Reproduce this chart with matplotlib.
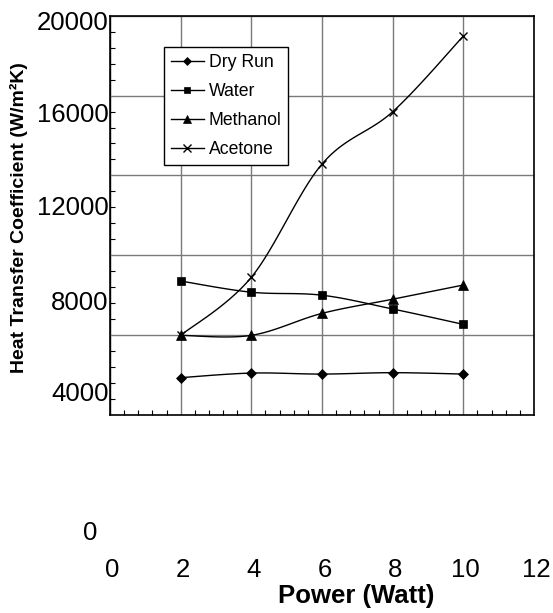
import numpy as np
import matplotlib
matplotlib.use('Agg')
import matplotlib.pyplot as plt
from matplotlib.ticker import MultipleLocator
from matplotlib.lines import Line2D
import matplotlib.transforms as mtransforms

# ---------------- data ----------------
power = [2, 4, 6, 8, 10]
dry_run = [1870, 2100, 2050, 2120, 2050]
water = [6710, 6150, 6000, 5310, 4540]
methanol = [3990, 3990, 5090, 5800, 6510]
acetone = [3990, 6900, 12570, 15190, 18980]
series_names = ['Dry Run', 'Water', 'Methanol', 'Acetone']
x_tick_values = [0, 2, 4, 6, 8, 10, 12]
x_tick_labels = ['0', '2', '4', '6', '8', '10', '12']
y_tick_labels = ['20000', '16000', '12000', '8000', '4000', '0']
x_label = 'Power (Watt)'
y_label = 'Heat Transfer Coefficient (W/m²K)'

# ---------------- layout (pixels) ----------------
W, H = 553, 613
DPI = 100
ax_left, ax_right, ax_top, ax_bottom = 110, 534, 15.7, 415
ytl_right = 108.5
ytl_baselines = [30.3, 121.8, 215.3, 310.3, 400.8]
zero_label_pos = (90, 540)
xtl_baseline = 577
xlabel_pos = (356.5, 603.5)
ylabel_pos = (18.5, 218)

plt.rcParams['font.family'] = ['Liberation Sans', 'DejaVu Sans']

fig = plt.figure(figsize=(W / DPI, H / DPI), dpi=DPI)
ax = fig.add_axes([ax_left / W, 1 - ax_bottom / H,
                   (ax_right - ax_left) / W, (ax_bottom - ax_top) / H])


def px(x, y):
    return x / W, 1 - y / H


def smooth(xs, ys, n=30):
    P = np.column_stack([xs, ys]).astype(float)
    E = np.vstack([P[0], P, P[-1]])
    out = [P[0]]
    t = np.linspace(0, 1, n)[1:, None]
    for i in range(len(P) - 1):
        p0, p1, p2, p3 = E[i], E[i + 1], E[i + 2], E[i + 3]
        c1 = p1 + (p2 - p0) / 6
        c2 = p2 - (p3 - p1) / 6
        B = (1 - t) ** 3 * p1 + 3 * (1 - t) ** 2 * t * c1 + 3 * (1 - t) * t ** 2 * c2 + t ** 3 * p2
        out.extend(B)
    return np.array(out)


series = [dry_run, water, methanol, acetone]
markers = ['D', 's', '^', 'x']
msizes = [5, 5.5, 6.5, 6]
handles = []
for vals, name, m, ms in zip(series, series_names, markers, msizes):
    c = smooth(power, vals)
    ax.plot(c[:, 0], c[:, 1], color='black', lw=1, zorder=3)
    ax.plot(power, vals, linestyle='none', marker=m, ms=ms, color='black',
            mew=1 if m == 'x' else 0.5, zorder=4)
    handles.append(Line2D([], [], color='black', lw=1, marker=m,
                          ms=ms * 0.85, mew=1 if m == 'x' else 0.5, label=name))

ax.set_xlim(0, 12)
ax.set_ylim(0, 20000)
ax.xaxis.set_major_locator(MultipleLocator(2))
ax.xaxis.set_minor_locator(MultipleLocator(0.4))
ax.yaxis.set_major_locator(MultipleLocator(4000))
ax.yaxis.set_minor_locator(MultipleLocator(800))
ax.tick_params(which='both', direction='in', labelbottom=False, labelleft=False)
ax.tick_params(which='major', length=0)
ax.tick_params(which='minor', length=3.5, width=0.8, color='black')
ax.grid(True, which='major', color='#7a7a7a', lw=1)
ax.get_xgridlines()[1].set_color('black')
for s in ax.spines.values():
    s.set_linewidth(1.2)
    s.set_color('black')

leg = ax.legend(handles=handles, loc='upper left',
                bbox_to_anchor=(164 / W, 1 - 47 / H), bbox_transform=fig.transFigure,
                fontsize=12.7, frameon=True, fancybox=False, edgecolor='black',
                framealpha=1, borderaxespad=0, borderpad=0.4, handlelength=1.85,
                handletextpad=0.28, labelspacing=0.68)
leg.get_frame().set_linewidth(1)

# y tick labels (as drawn in the reference)
for lab, yb in zip(y_tick_labels[:-1], ytl_baselines):
    fig.text(*px(ytl_right, yb), lab, ha='right', va='baseline', fontsize=18.5)
fig.text(*px(*zero_label_pos), y_tick_labels[-1], ha='center', va='baseline', fontsize=18.5)

# x tick labels
trans = mtransforms.blended_transform_factory(ax.transData, fig.transFigure)
trans = mtransforms.offset_copy(trans, fig=fig, x=2.4, units='dots')
for v, lab in zip(x_tick_values, x_tick_labels):
    fig.text(v, 1 - xtl_baseline / H, lab, transform=trans, ha='center',
             va='baseline', fontsize=18.5)

fig.text(*px(*xlabel_pos), x_label, ha='center', va='baseline', fontsize=18.5,
         fontweight='bold')
fig.text(*px(*ylabel_pos), y_label, ha='center', va='center', rotation=90,
         fontsize=14, fontweight='bold')

fig.savefig('out.png', dpi=DPI)
